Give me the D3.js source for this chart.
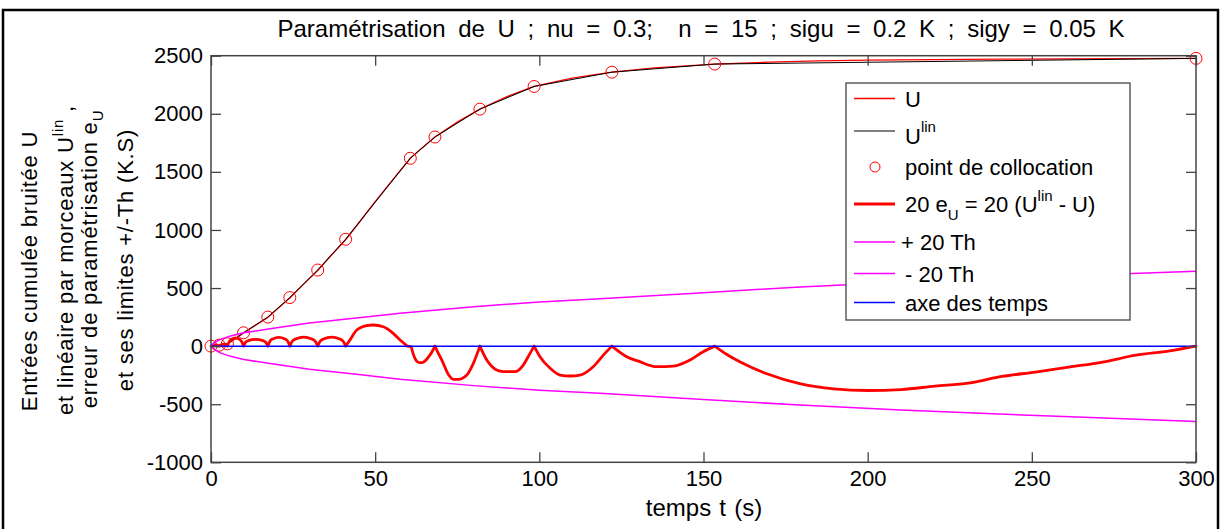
<!DOCTYPE html>
<html><head><meta charset="utf-8">
<script src="https://cdn.jsdelivr.net/npm/d3@7"></script>
<style>
html,body{margin:0;padding:0;background:#fff;}
svg text{font-family:"Liberation Sans",Arial,Helvetica,sans-serif;fill:#000;}
</style></head>
<body>
<svg id="chart" width="1221" height="529"></svg>
<script>
// ---------- data ----------
const xTicks = [0, 50, 100, 150, 200, 250, 300];
const yTicks = [-1000, -500, 0, 500, 1000, 1500, 2000, 2500];

// collocation points (U_lin is the piecewise linear through them)
const collocT = [0, 2.5, 5, 9.9, 17.3, 24, 32.5, 41, 60.7, 68.2, 81.9, 98.4, 122.1, 153.4, 300];
const collocU = [0, 8, 20, 115, 250, 418, 655, 920, 1617, 1800, 2040, 2235, 2358, 2428, 2477];

// noisy cumulative input U
const uT = [0, 2.5, 5, 7.5, 9.9, 13.6, 17.3, 20.6, 24, 28.2, 32.5, 36.7, 41, 45, 49.4, 55, 60.7, 64, 68.2, 75, 81.9, 90, 98.4, 110, 122.1, 135, 153.4, 170, 185, 200, 220, 240, 260, 280, 300];
const uV = [0, 7, 19, 64, 114, 180, 247, 330, 414, 534, 651, 784, 916, 1060, 1222, 1420, 1617, 1700, 1800, 1928, 2040, 2146, 2235, 2307, 2358, 2395, 2428, 2445, 2455, 2462, 2467, 2470, 2472, 2474, 2477];

// 20 e_U
const errT = [0, 1.25, 2.5, 3.75, 5, 5.5, 6.2, 7.45, 8.7, 9.4, 9.9,
  10.5, 11.4, 13.6, 15.8, 16.7, 17.3,
  17.9, 18.8, 20.65, 22.5, 23.4, 24,
  24.7, 25.8, 28.25, 30.7, 31.8, 32.5,
  33.2, 34.3, 36.75, 39.2, 40.3, 41,
  42.3, 44.4, 47.4, 49.4, 52.5, 55.5, 57.6, 59.8, 60.9,
  61.5, 62.2, 63.2, 64.3, 65.3, 66.6, 67.5, 68.2,
  69.2, 70.3, 72.4, 73.8, 75.3, 77.9, 79.9, 81.9,
  84.0, 87.0, 89.0, 92.6, 95.1, 96.6, 98.4,
  100.2, 103.3, 106.3, 109.3, 112.4, 116.4, 119.5, 122.1,
  126.6, 130.6, 135.7, 140.8, 145.9, 149.9, 153.4,
  157, 161.2, 169.3, 179.6, 189.7, 200, 210.2, 220.5, 230.7, 240.9, 251.1, 261.3, 271.6, 281.7, 292, 300];
const errV = [0, 12, 0, 18, 0, 36, 58, 70, 58, 36, 0,
  32, 48, 58, 48, 32, 0,
  40, 62, 76, 62, 40, 0,
  40, 62, 77, 62, 40, 0,
  40, 62, 77, 62, 40, 0,
  52, 139, 176, 182, 167, 110, 52, 0, -5,
  -60, -110, -140, -142, -125, -80, -40, 0,
  -60, -120, -249, -286, -286, -249, -148, 0,
  -120, -206, -220, -220, -163, -91, 0,
  -91, -191, -249, -257, -249, -177, -77, 0,
  -91, -134, -177, -172, -120, -48, 0,
  -70, -137, -238, -325, -368, -382, -374, -344, -318, -261, -223, -180, -137, -78, -41, 0];

// +/- 20 Th
const thT = [0, 1, 3, 6, 10, 18, 30, 45, 57.6, 80, 100, 118.5, 150, 179.4, 210, 240, 270, 300];
const thUp = [0, 30, 60, 88, 115, 150, 200, 245, 284, 340, 380, 408, 460, 509, 550, 585, 615, 645];
const thLow = [0, -30, -60, -88, -115, -150, -200, -245, -286, -340, -380, -406, -460, -507, -550, -585, -617, -648];

const axisT = [0, 300];
const axisV = [0, 0];

// ---------- drawing ----------
const svg = d3.select("#chart");
const X0 = 211, X1 = 1196, Y0 = 55.7, Y1 = 462.3;
const x = d3.scaleLinear().domain([0, 300]).range([X0, X1]);
const y = d3.scaleLinear().domain([-1000, 2500]).range([Y1, Y0]);

// figure frame
svg.append("rect").attr("x", 3).attr("y", 10).attr("width", 1215).attr("height", 540)
  .attr("fill", "none").attr("stroke", "#000").attr("stroke-width", 2.5);

const line = (ts, vs) => d3.line().x((d, i) => x(ts[i])).y((d, i) => y(vs[i]))(ts);

const plot = svg.append("g");
plot.append("path").attr("d", line(uT, uV)).attr("fill", "none").attr("stroke", "#ff0000").attr("stroke-width", 1.3);
plot.append("path").attr("d", line(collocT, collocU)).attr("fill", "none").attr("stroke", "#000").attr("stroke-width", 1);
plot.selectAll("circle.c").data(collocT).join("circle").attr("class", "c")
  .attr("cx", (d) => x(d)).attr("cy", (d, i) => y(collocU[i])).attr("r", 6)
  .attr("fill", "none").attr("stroke", "#ff0000").attr("stroke-width", 1);

// error curve: smooth arcs between collocation cusps
const idx = d3.range(errT.length);
const segs = [];
let cur = [0];
for (let i = 1; i < idx.length; i++) {
  cur.push(i);
  if (errV[i] === 0 && i < idx.length - 1) { segs.push(cur); cur = [i]; }
}
segs.push(cur);
const segLine = d3.line().x(i => x(errT[i])).y(i => y(errV[i])).curve(d3.curveMonotoneX);
plot.append("path").attr("d", segs.map(s => segLine(s)).join(""))
  .attr("fill", "none").attr("stroke", "#ff0000")
  .attr("stroke-width", 2.8).attr("stroke-linejoin", "round").attr("stroke-linecap", "round");

plot.append("path").attr("d", line(thT, thUp)).attr("fill", "none").attr("stroke", "#ff00ff").attr("stroke-width", 1.5);
plot.append("path").attr("d", line(thT, thLow)).attr("fill", "none").attr("stroke", "#ff00ff").attr("stroke-width", 1.5);
plot.append("path").attr("d", line(axisT, axisV)).attr("fill", "none").attr("stroke", "#0000ff").attr("stroke-width", 1.5);

// axes
const axCol = "#444";
const fs = "22px";
const fmt = d => String(d);
const gB = svg.append("g").attr("transform", `translate(0,${Y1})`)
  .call(d3.axisBottom(x).tickValues(xTicks).tickFormat(fmt).tickSize(-10).tickSizeOuter(0).tickPadding(8));
const gL = svg.append("g").attr("transform", `translate(${X0},0)`)
  .call(d3.axisLeft(y).tickValues(yTicks).tickFormat(fmt).tickSize(-10).tickSizeOuter(0).tickPadding(8));
const gT = svg.append("g").attr("transform", `translate(0,${Y0})`)
  .call(d3.axisTop(x).tickValues(xTicks).tickSize(-10).tickSizeOuter(0).tickFormat(""));
const gR = svg.append("g").attr("transform", `translate(${X1},0)`)
  .call(d3.axisRight(y).tickValues(yTicks).tickSize(-10).tickSizeOuter(0).tickFormat(""));
[gB, gL, gT, gR].forEach(g => {
  g.attr("font-family", null);
  g.select(".domain").remove();
  g.selectAll(".tick line").attr("stroke", axCol).attr("stroke-width", 1.3);
  g.selectAll("text").attr("font-size", fs).attr("fill", "#000");
});
svg.append("rect").attr("x", X0).attr("y", Y0).attr("width", X1 - X0).attr("height", Y1 - Y0)
  .attr("fill", "none").attr("stroke", axCol).attr("stroke-width", 1.5);

// title
svg.append("text").attr("x", 701).attr("y", 37).attr("text-anchor", "middle")
  .attr("font-size", "24px").attr("word-spacing", "6px")
  .text("Paramétrisation de U ; nu = 0.3;  n = 15 ; sigu = 0.2 K ; sigy = 0.05 K")
  .style("white-space", "pre");

// x label
svg.append("text").attr("x", 704).attr("y", 516).attr("text-anchor", "middle")
  .attr("font-size", "24px").attr("word-spacing", "1.5px")
  .text("temps t (s)");

// y label (4 rotated lines)
const yl = svg.append("g").attr("transform", "rotate(-90)").attr("font-size", "22px").attr("letter-spacing", "0.8px");
yl.append("text").attr("x", -271).attr("y", 37).attr("text-anchor", "middle").text("Entrées cumulée bruitée U");
const l2 = yl.append("text").attr("x", -260).attr("y", 73).attr("text-anchor", "middle");
l2.append("tspan").text("et linéaire par morceaux U");
l2.append("tspan").attr("dy", -10).attr("font-size", "15px").text("lin");
l2.append("tspan").attr("dy", 10).text(" ,");
const l3 = yl.append("text").attr("x", -259).attr("y", 97).attr("text-anchor", "middle");
l3.append("tspan").text("erreur de paramétrisation e");
l3.append("tspan").attr("dy", 6).attr("font-size", "15px").text("U");
yl.append("text").attr("x", -260).attr("y", 133).attr("text-anchor", "middle").text("et ses limites +/-Th (K.S)");

// legend
const lg = svg.append("g");
lg.append("rect").attr("x", 846).attr("y", 83).attr("width", 284).attr("height", 237)
  .attr("fill", "#fff").attr("stroke", "#444").attr("stroke-width", 1.3);
const LX0 = 854, LX1 = 895, TX = 905;
function sample(yy, col, w) {
  lg.append("line").attr("x1", LX0).attr("x2", LX1).attr("y1", yy).attr("y2", yy)
    .attr("stroke", col).attr("stroke-width", w);
}
sample(98.5, "#ff0000", 1.3);
lg.append("text").attr("x", TX).attr("y", 107).attr("font-size", "22px").text("U");
sample(131, "#000", 1.2);
const t2 = lg.append("text").attr("x", TX).attr("y", 144).attr("font-size", "22px");
t2.append("tspan").text("U");
t2.append("tspan").attr("dy", -12).attr("font-size", "15px").text("lin");
lg.append("circle").attr("cx", 875).attr("cy", 167).attr("r", 5).attr("fill", "none").attr("stroke", "#ff0000").attr("stroke-width", 1);
lg.append("text").attr("x", TX).attr("y", 175).attr("font-size", "22px").text("point de collocation");
sample(204, "#ff0000", 2.8);
const t4 = lg.append("text").attr("x", TX).attr("y", 212).attr("font-size", "22px");
t4.append("tspan").text("20 e");
t4.append("tspan").attr("dy", 8).attr("font-size", "15px").text("U");
t4.append("tspan").attr("dy", -8).text(" = 20 (U");
t4.append("tspan").attr("dy", -11).attr("font-size", "15px").text("lin");
t4.append("tspan").attr("dy", 11).text(" - U)");
sample(242, "#ff00ff", 1.5);
lg.append("text").attr("x", 901).attr("y", 250).attr("font-size", "22px").text("+ 20 Th");
sample(273.5, "#ff00ff", 1.5);
lg.append("text").attr("x", TX).attr("y", 282).attr("font-size", "22px").text("- 20 Th");
sample(302.5, "#0000ff", 1.5);
lg.append("text").attr("x", TX).attr("y", 311).attr("font-size", "22px").text("axe des temps");
</script>
</body></html>
